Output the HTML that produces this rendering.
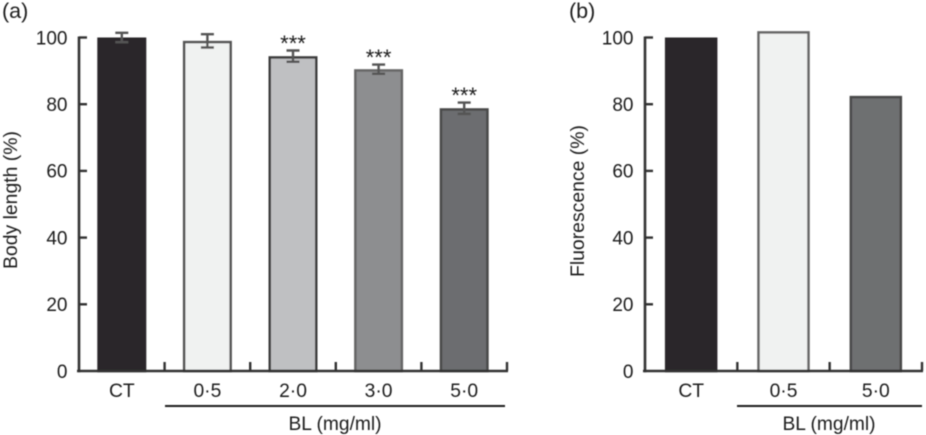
<!DOCTYPE html>
<html>
<head>
<meta charset="utf-8">
<title>Body length and fluorescence</title>
<style>
html,body{margin:0;padding:0;background:#fff;width:926px;height:435px;overflow:hidden}
svg{display:block}
text{font-family:"Liberation Sans",sans-serif;fill:#1f1f1f}
</style>
</head>
<body>
<svg id="chart" xmlns="http://www.w3.org/2000/svg" width="926" height="435" viewBox="0 0 926 435">
<defs><filter id="soft" x="-5%" y="-5%" width="110%" height="110%"><feGaussianBlur stdDeviation="0.4"/></filter></defs>
<g id="root" filter="url(#soft)"></g>
</svg>
<script>
// Panel (a) data
var categoriesA = ['CT', '0·5', '2·0', '3·0', '5·0'];
var valuesA = [100, 99, 94.4, 90.5, 78.8];
var errorsA = [1.4, 2, 1.7, 1.4, 1.7];
var significanceA = ['', '', '***', '***', '***'];
// Panel (b) data
var categoriesB = ['CT', '0·5', '5·0'];
var valuesB = [100, 101.9, 82.5];
var errorsB = [0, 0, 0];
var significanceB = ['', '', ''];
// Shared
var yTicks = [0, 20, 40, 60, 80, 100];

var NS = 'http://www.w3.org/2000/svg';
var root = document.getElementById('root');

function mk(tag, attrs, parent, content) {
  var el = document.createElementNS(NS, tag);
  for (var k in attrs) { el.setAttribute(k, attrs[k]); }
  if (content !== undefined) { el.textContent = content; }
  parent.appendChild(el);
  return el;
}

function drawPanel(cfg) {
  var g = mk('g', {}, root);
  
  

  var y = function (v) { return cfg.y0 - v * cfg.unit; };
  var band = (cfg.xEnd - cfg.xAxis) / cfg.categories.length;
  var cx = function (i) { return cfg.xAxis + band * (i + 0.5); };

  // bars
  cfg.categories.forEach(function (c, i) {
    var w = cfg.barW;
    var top = y(cfg.values[i]);
    var bar = mk('rect', {
      x: cx(i) - w / 2 + 1.25, y: top + 1.25, width: w - 2.5, height: cfg.y0 - top - 1.25,
      fill: cfg.fills[i], stroke: cfg.strokes[i], 'stroke-width': 2.5
    }, g);
    
    

    if (cfg.errors[i] > 0) {
      var hi = y(cfg.values[i] + cfg.errors[i]);
      var lo = y(cfg.values[i] - cfg.errors[i]);
      var err = mk('path', {
        d: 'M' + cx(i) + ' ' + hi + 'V' + lo +
           'M' + (cx(i) - 6.5) + ' ' + hi + 'H' + (cx(i) + 6.5) +
           'M' + (cx(i) - 6.5) + ' ' + lo + 'H' + (cx(i) + 6.5),
        stroke: '#555', 'stroke-width': 2.4, fill: 'none'
      }, g);
      
      
    }
    if (cfg.significance[i]) {
      var star = mk('text', {
        x: cx(i), y: y(cfg.values[i] + cfg.errors[i]) + 0.5,
        'text-anchor': 'middle', 'font-size': 22
      }, g, cfg.significance[i]);
      
      
    }
    var lab = mk('text', {
      x: cx(i), y: 397, 'text-anchor': 'middle', 'font-size': 19.3
    }, g, c);
    
    
  });

  // y axis
  var yAxis = mk('line', {
    x1: cfg.xAxis, x2: cfg.xAxis, y1: y(100) - 1, y2: cfg.y0 + 1.2,
    stroke: '#333', 'stroke-width': 2.6
  }, g);
  
  

  yTicks.forEach(function (t) {
    if (t > 0) {
      var tick = mk('line', {
        x1: cfg.xAxis, x2: cfg.xAxis + 8, y1: y(t), y2: y(t),
        stroke: '#333', 'stroke-width': 2.4
      }, g);
      
      
    }
    var tl = mk('text', {
      x: cfg.xAxis - 11.5, y: y(t) + 6.8, 'text-anchor': 'end', 'font-size': 19
    }, g, String(t));
    
    
  });

  // x axis
  var xAxis = mk('line', {
    x1: cfg.xAxis - 2, x2: cfg.xEnd + 1, y1: cfg.y0, y2: cfg.y0,
    stroke: '#333', 'stroke-width': 2.6
  }, g);
  
  

  cfg.categories.forEach(function (c, i) {
    var tx = cfg.xAxis + band * (i + 1);
    var tick = mk('line', {
      x1: tx, x2: tx, y1: cfg.y0, y2: cfg.y0 - 9,
      stroke: '#333', 'stroke-width': 2.4
    }, g);
    
    
  });

  // bracket under treatments
  var br = mk('line', {
    x1: cfg.brFrom, x2: cfg.brTo, y1: 406, y2: 406, stroke: '#1c1c1c', 'stroke-width': 2
  }, g);
  
  

  var bl = mk('text', {
    x: cfg.blX, y: 430, 'text-anchor': 'middle', 'font-size': 19.2
  }, g, 'BL (mg/ml)');
  
  

  var yt = mk('text', {
    transform: 'translate(' + cfg.ytX + ' ' + cfg.ytY + ') rotate(-90)',
    'font-size': 19.4
  }, g, cfg.yTitle);
  
  

  var pl = mk('text', { x: cfg.plX, y: 18, 'font-size': 21.5 }, g, cfg.panel);
  
  
}

drawPanel({
  id: 'panel-a', panel: '(a)', plX: 2, xAxis: 79, xEnd: 507, y0: 371, unit: 3.335, barW: 49,
  categories: categoriesA, values: valuesA, errors: errorsA, significance: significanceA,
  fills: ['#2a2829', '#f0f2f1', '#bfc0c2', '#8d8e90', '#6c6d6f'],
  strokes: ['#2a2829', '#555', '#3e3e3e', '#666', '#4a4a4a'],
  brFrom: 165, brTo: 505, blX: 335, yTitle: 'Body length (%)', ytX: 17, ytY: 269
});
drawPanel({
  id: 'panel-b', panel: '(b)', plX: 569, xAxis: 645, xEnd: 922, y0: 371, unit: 3.335, barW: 52.5,
  categories: categoriesB, values: valuesB, errors: errorsB, significance: significanceB,
  fills: ['#2a2829', '#f0f2f1', '#6e6f71'],
  strokes: ['#2a2829', '#666', '#4a4a4a'],
  brFrom: 737, brTo: 922, blX: 829, yTitle: 'Fluorescence (%)', ytX: 584, ytY: 277
});
</script>
</body>
</html>
